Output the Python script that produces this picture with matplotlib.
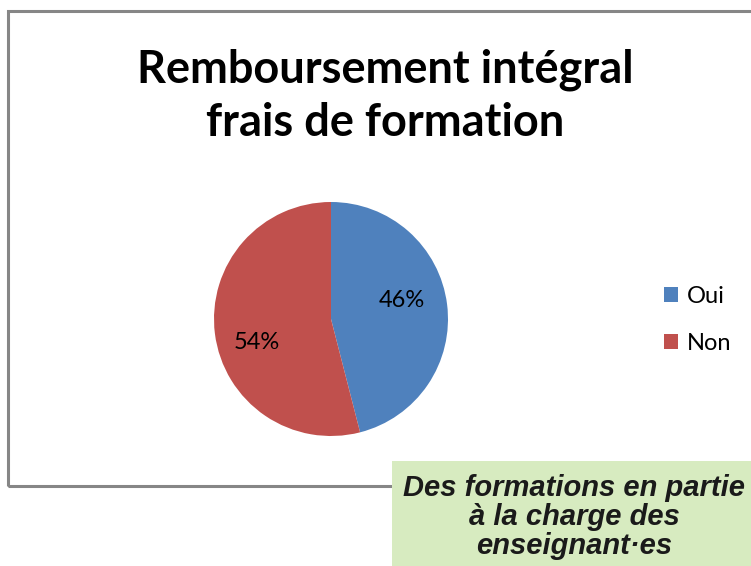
import matplotlib.pyplot as plt
from matplotlib.patches import Rectangle

labels = ['Oui', 'Non']
values = [46, 54]
colors = ['#4F81BD', '#C0504D']

W, H = 751, 566


def px(x0, y0, w, h):
    # pixel box (top-left origin) -> figure fraction
    return [x0 / W, 1 - (y0 + h) / H, w / W, h / H]


def main():
    fig = plt.figure(figsize=(W / 100, H / 100), dpi=100)
    fig.patch.set_facecolor('white')

    # chart frame
    fig.patches.append(Rectangle((8 / W, 1 - 486 / H), 760 / W, 475 / H,
                                 transform=fig.transFigure, fill=False,
                                 edgecolor='#868686', linewidth=2.2))

    fig.text(385 / W, 1 - 96 / H, 'Remboursement intégral\nfrais de formation',
             ha='center', va='center', fontsize=32.5, fontweight='bold',
             family='Lato', linespacing=1.32, color='black')

    ax = fig.add_axes(px(214, 202, 234, 234))
    wedges, texts, autotexts = ax.pie(values, colors=colors, startangle=90,
                                      counterclock=False, autopct='%d%%',
                                      pctdistance=0.64,
                                      textprops={'fontsize': 17, 'family': 'Lato'})
    ax.set_xlim(-1, 1)
    ax.set_ylim(-1, 1)
    ax.set_aspect('equal')
    for t in texts:
        t.set_visible(False)
    # excel "best fit" style label spots
    autotexts[0].set_position((0.61, 0.16))
    autotexts[1].set_position((-0.63, -0.20))

    fig.legend(wedges, labels, loc='center left',
               bbox_to_anchor=(664 / W, 1 - 320 / H),
               frameon=False, handlelength=0.6, handleheight=0.6,
               handletextpad=0.35, labelspacing=1.12, borderpad=0, borderaxespad=0,
               prop={'family': 'Lato', 'size': 17})

    # green caption box
    fig.patches.append(Rectangle((392 / W, 0), 359 / W, 105 / H,
                                 transform=fig.transFigure, facecolor='#D7EBC0',
                                 edgecolor='none', zorder=5))
    fig.text(574 / W, 1 - 517 / H, 'Des formations en partie\nà la charge des\nenseignant·es',
             ha='center', va='center', fontsize=21, fontweight='bold',
             style='italic', family='Liberation Sans', color='#1a1a1a',
             linespacing=1.04, zorder=6)

    fig.savefig('out.png', dpi=100)


if __name__ == "__main__":
    main()
